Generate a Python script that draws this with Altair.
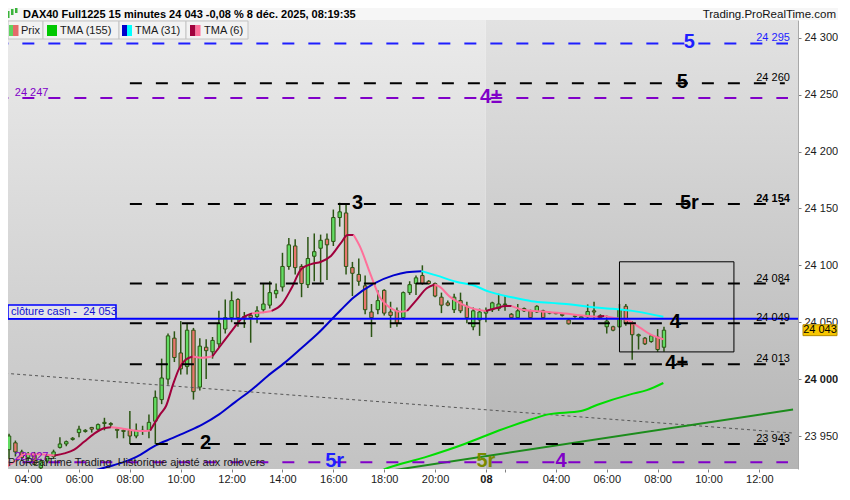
import altair as alt
import pandas as pd

NB = "\u00a0"

# ---------------- candles : bar index 0 = Fri 03:15, 75 = Mon 01:15 (15 min) ----------------
bar_open = [23938, 23944, 23936, 23931, 23934, 23922, 23928, 23932, 23940, 23943,
            23947, 23953, 23954, 23957.5, 23956, 23961, 23961, 23956, 23955, 23955,
            23950, 23954, 23955, 23963, 23982, 24000, 24036, 24023, 24011, 24043,
            23993, 24028, 24024, 24031, 24044, 24054, 24070, 24055, 24056, 24055,
            24061, 24065, 24075, 24081, 24099, 24117, 24099, 24083, 24108, 24115,
            24123, 24121, 24142, 24146, 24098, 24092, 24082, 24059, 24061, 24078,
            24059, 24060, 24054, 24076, 24084, 24091, 24086, 24084, 24072, 24067,
            24061, 24069, 24064, 24046, 24052, 24058, 24061, 24062, 24065.5, 24057,
            24054, 24062, 24060, 24059, 24060, 24058, 24058, 24057, 24052, 24055,
            24053.7, 24054.8, 24060, 24054.3, 24046, 24046, 24046, 24064, 24049, 24038,
            24036, 24033, 24037, 24028]
bar_high = [23952, 23946, 23938, 23936, 23936, 23930, 23934, 23938, 23949, 23946,
            23949, 23959, 23956, 23958, 23961, 23966, 23962, 23957, 23956, 23972,
            23961, 23959, 23969, 23990, 24018, 24040, 24042, 24051, 24049, 24045,
            24036, 24035, 24037, 24060, 24070, 24077, 24071, 24059, 24058, 24064,
            24084, 24086, 24084, 24111, 24124, 24123, 24101, 24125, 24128, 24127,
            24128, 24149, 24155, 24154, 24103, 24106, 24091, 24066, 24078, 24079,
            24068, 24063, 24077, 24086, 24091, 24100, 24087, 24085, 24076, 24069,
            24075, 24076, 24068, 24063, 24062, 24063, 24068, 24075, 24074, 24058,
            24066, 24063, 24061, 24065, 24061, 24059, 24059, 24058, 24053, 24056,
            24055.5, 24065.6, 24068, 24057, 24056, 24047, 24066, 24066, 24051, 24040,
            24037, 24039, 24044, 24046]
bar_low = [23930, 23932, 23928, 23928, 23924, 23921, 23926, 23930, 23939, 23941,
           23946, 23949, 23953, 23953, 23955, 23955, 23957, 23948, 23948, 23943,
           23948, 23951, 23948, 23943, 23978, 23995, 24015, 24004, 24004, 23982,
           23990, 24000, 24018, 24028, 24040, 24050, 24046, 24045, 24032, 24049,
           24058, 24062, 24071, 24077, 24096, 24092, 24072, 24080, 24086, 24085,
           24087, 24117, 24134, 24092, 24073, 24082, 24057, 24037, 24057, 24056,
           24045, 24046, 24052, 24074, 24074, 24083, 24083, 24072, 24058, 24064,
           24058, 24058, 24049, 24043, 24038, 24050, 24059, 24060, 24060, 24053,
           24053, 24059, 24053, 24058, 24053, 24057, 24057, 24055, 24048, 24054,
           24053, 24054, 24052, 24053, 24040, 24042, 24045, 24047, 24017, 24026,
           24030, 24032, 24024, 24024]
bar_close = [23950, 23936, 23931, 23934, 23925, 23928, 23932, 23936, 23943, 23945,
             23948, 23956, 23955, 23956, 23960, 23962, 23960, 23955, 23954, 23950,
             23955, 23955, 23962, 23984, 24001, 24038, 24019, 24009, 24043, 23989,
             24029, 24025, 24034, 24049, 24054, 24069, 24054, 24053, 24054, 24060,
             24066, 24076, 24078, 24099, 24118, 24098, 24084, 24106, 24112, 24122,
             24118, 24142, 24147, 24099, 24093, 24086, 24061, 24054, 24069, 24058,
             24056, 24049, 24076, 24083, 24089, 24084, 24084, 24073, 24065, 24065,
             24072, 24060, 24054, 24060, 24059, 24060, 24067, 24066, 24066, 24054,
             24060, 24060, 24054, 24064, 24054, 24058.5, 24057.5, 24056, 24048.6, 24055.5,
             24054.8, 24059.4, 24059, 24055.7, 24051, 24043, 24061, 24049, 24039, 24039,
             24031, 24038, 24026, 24043]

# ---------------- moving averages ----------------
tma6_bar = [-0.62, 0.93, 2.48, 4.5, 7.14, 8.7, 10.25, 11.8, 13.35, 14.9, 16.0, 17.55,
            19.57, 21.1, 22.2, 23.76, 24.69, 25.78, 26.71, 27.64, 28.88, 30.43, 31.99,
            33.54, 35.09, 36.65, 38.2, 39.75, 41.3, 42.86, 44.41, 45.96, 47.52, 49.07,
            50.62, 52.17, 53.26, 54.19, 55.28, 56.83, 58.39, 59.94, 61.49, 62.58, 64.13,
            65.68, 66.93, 67.7, 69.25, 71.27, 72.83, 75.0, 76.55, 78.11, 79.04, 81.21,
            84.32, 87.42, 90.53, 92.55, 93.63, 95.19, 97.2, 99.22, 100.78, 102.95]
tma6_val = [23922.1, 23927.8, 23934.0, 23934.0, 23932.9, 23934.7, 23938.0, 23944.9,
            23951.9, 23956.8, 23957.7, 23956.8, 23954.8, 23954.3, 23954.8, 23969.0,
            23976.4, 23995.1, 24008.8, 24016.4, 24019.9, 24018.8, 24020.1, 24031.5,
            24042.9, 24053.5, 24057.8, 24058.5, 24059.9, 24065.6, 24079.8, 24096.8,
            24101.1, 24103.1, 24108.2, 24119.5, 24126.6, 24126.6, 24115.3, 24092.3,
            24071.2, 24062.7, 24059.3, 24059.9, 24069.9, 24079.8, 24083.2, 24081.2,
            24072.7, 24065.6, 24062.2, 24059.9, 24062.2, 24064.2, 24064.2, 24060.5,
            24059.3, 24057.6, 24055.7, 24054.8, 24055.4, 24053.7, 24052.0, 24045.2,
            24039.5, 24034.9]
tma6_turns = [0, 4, 10, 14, 20, 22, 26, 28, 37, 43, 46, 51, 54, 59, 60, 65]
tma6_colors = ["#ff6f9a", "#a0003c"]

tma31_bar = [12.0, 15.37, 18.01, 20.03, 23.14, 25.78, 27.84, 30.43, 33.03, 35.56, 38.2,
             40.68, 43.37, 45.96, 48.56, 52.17, 54.19, 57.3, 60.45, 62.53, 64.86,
             67.19, 70.3, 72.87, 75.47, 79.08, 82.19, 85.3, 88.4, 91.51, 94.61, 98.76, 102.9]
tma31_val = [23917.5, 23922.7, 23927.0, 23931.7, 23942.0, 23948.3, 23953.4, 23960.2,
             23969.0, 23979.8, 23990.9, 24002.8, 24014.5, 24027.1, 24040.0, 24060.8,
             24071.8, 24083.8, 24091.2, 24094.0, 24094.9, 24091.2, 24085.5, 24082.7,
             24076.9, 24071.9, 24068.5, 24067.0, 24065.6, 24063.3, 24061.9, 24059.3, 24054.8]
tma31_turns = [0, 20, 32]
tma31_colors = ["#0000cc", "#00ffff"]

tma155_bar = [57.6, 59.16, 65.37, 71.85, 77.02, 82.19, 84.78, 89.95, 92.55, 97.72, 100.31, 102.9]
tma155_val = [23917.0, 23921.0, 23931.2, 23943.4, 23954.8, 23964.7, 23969.0, 23971.9,
              23977.5, 23986.6, 23990.3, 23996.6]

trend_bar = [58.4, 123.3]
trend_val = [23918.2, 23973.3]
dotted_bar = [-0.62, 123.3]
dotted_val = [24005.1, 23952.6]

# ---------------- horizontal levels ----------------
lvl_price = [24295, 24260, 24247, 24154, 24084, 24049, 24013, 23943, 23927]
lvl_color = ["#1e1eff", "#000000", "#8000c8", "#000000", "#000000", "#000000",
             "#000000", "#000000", "#8000c8"]
lvl_start = [-2, 19, -2, 19, 19, 19, 19, 19, -2]
lvl_end = [122.5, 122, 122.5, 122, 122, 122, 122, 122, 122.5]

rlab_text = ["24 295", "24 260", "24 084", "24 049", "24 013", "23 943"]
rlab_price = [24295, 24260, 24084, 24049, 24013, 23943]
rlab_color = ["#1e1eff", "#000000", "#000000", "#000000", "#000000", "#000000"]
llab_text = ["24 247", "23 927"]
llab_price = [24247, 23927]

big_text = ["5", "5", "4±", "3", "5r", "4", "4+", "2", "5r", "5r", "4"]
big_bar = [107.0, 105.9, 75.8, 54.8, 107.0, 104.8, 105.0, 30.9, 51.2, 75.0, 86.8]
big_price = [24295, 24260, 24247, 24154, 24154, 24049, 24013, 23943, 23927, 23927, 23927]
big_color = ["#1e1eff", "#000000", "#8000c8", "#000000", "#000000", "#000000", "#000000",
             "#000000", "#1e1eff", "#7a8a00", "#8000c8"]

cash_close = 24053
last_price = 24043
box_bars = [96.0, 114.0]
box_prices = [24023.9, 24103.1]

x_ticks = [3, 11, 19, 27, 35, 43, 51, 59, 67, 75, 78, 86, 94, 102, 110, 118]
y_ticks = [23950, 24000, 24050, 24100, 24150, 24200, 24250, 24300]

# ---------------- tables ----------------
candles = pd.DataFrame({"n": list(range(len(bar_open))), "o": bar_open, "h": bar_high,
                        "l": bar_low, "c": bar_close})


def segments(xs, ys, turns, colors):
    rows = []
    for k in range(len(turns) - 1):
        for i in range(turns[k], turns[k + 1] + 1):
            rows.append({"n": xs[i], "v": ys[i], "seg": k, "col": colors[k % 2]})
    return pd.DataFrame(rows)


tma6 = segments(tma6_bar, tma6_val, tma6_turns, tma6_colors)
tma31 = segments(tma31_bar, tma31_val, tma31_turns, tma31_colors)
tma155 = pd.DataFrame({"n": tma155_bar, "v": tma155_val})
trend = pd.DataFrame({"n": trend_bar, "v": trend_val})
dotted = pd.DataFrame({"n": dotted_bar, "v": dotted_val})
levels = pd.DataFrame({"n": lvl_start, "n1": lvl_end, "v": lvl_price, "col": lvl_color})
rlab = pd.DataFrame({"n": [122.8] * len(rlab_text), "v": rlab_price, "t": rlab_text, "col": rlab_color})
llab = pd.DataFrame({"n": [0.9] * len(llab_text), "v": llab_price, "t": llab_text})
bold_lab = pd.DataFrame({"n": [122.8], "v": [24154], "t": ["24 154"]})
big = pd.DataFrame({"n": big_bar, "v": big_price, "t": big_text, "col": big_color})
bg = pd.DataFrame({"n": [-2, 74.95], "n1": [74.95, 130]})
one = pd.DataFrame({"a": [0]})

W, H = 790, 449

xscale = alt.Scale(domain=[0.62, 123.29], nice=False, zero=False)
yscale = alt.Scale(domain=[23921, 24315.6], nice=False, zero=False)
xaxis = alt.Axis(values=x_ticks, title=None, grid=False, domain=False, tickSize=3,
                 tickColor="#808080", labelFontSize=11, labelColor="#1a1a1a", labelPadding=1,
                 labelOverlap=False, labelFlush=False, labelFont="Liberation Sans",
                 labelExpr="datum.value == 75 ? '08' : (datum.value == 78 ? '' : format(datum.value < 75 ? (datum.value + 13) / 4 : (datum.value - 70) / 4, '02d') + ':00')",
                 labelFontWeight={"condition": {"test": "datum.value == 75", "value": "bold"}, "value": "normal"})
yaxis = alt.Axis(orient="right", values=y_ticks, title=None, grid=False, domainColor="#a8a8a8",
                 tickColor="#808080", tickSize=3, labelPadding=3, labelFontSize=11,
                 labelColor="#1a1a1a", labelFont="Liberation Sans",
                 labelExpr="replace(format(datum.value, ','), ',', ' ')",
                 labelFontWeight={"condition": {"test": "datum.value == 24000", "value": "bold"}, "value": "normal"})


def X(f="n"):
    return alt.X(f"{f}:Q", scale=xscale, axis=xaxis)


def Y(f="v"):
    return alt.Y(f"{f}:Q", scale=yscale, axis=yaxis)


def grad(top, bottom):
    return alt.LinearGradient(gradient="linear", x1=0, x2=0, y1=0, y2=1,
                              stops=[alt.GradientStop(offset=0, color=top),
                                     alt.GradientStop(offset=1, color=bottom)])


layers = []
# backgrounds (previous session lighter)
layers.append(alt.Chart(bg.iloc[[0]]).mark_rect(clip=True, color=grad("#ebebeb", "#c3c3c3"))
              .encode(x=X(), x2="n1:Q", y=alt.value(0), y2=alt.value(H)))
layers.append(alt.Chart(bg.iloc[[1]]).mark_rect(clip=True, color=grad("#e2e2e2", "#b4b4b4"))
              .encode(x=X(), x2="n1:Q", y=alt.value(0), y2=alt.value(H)))

# candles
layers.append(alt.Chart(candles).mark_rule(clip=True, color="#2b5513", strokeWidth=1.5)
              .encode(x=X(), y=Y("l"), y2="h:Q"))
layers.append(alt.Chart(candles).mark_bar(clip=True, size=3.4, stroke="#2b5513", strokeWidth=1)
              .encode(x=X(), y=Y("o"), y2="c:Q",
                      fill=alt.condition("datum.c >= datum.o", alt.value("#62dc62"), alt.value("#e8766e"))))

# auxiliary lines
layers.append(alt.Chart(dotted).mark_line(clip=True, color="#555555", strokeWidth=1, strokeDash=[3, 3])
              .encode(x=X(), y=Y()))
layers.append(alt.Chart(trend).mark_line(clip=True, color="#1c8c1c", strokeWidth=2)
              .encode(x=X(), y=Y()))
layers.append(alt.Chart(tma155).mark_line(clip=True, color="#00dd00", strokeWidth=2, interpolate="monotone")
              .encode(x=X(), y=Y()))
layers.append(alt.Chart(tma31).mark_line(clip=True, strokeWidth=2, interpolate="monotone")
              .encode(x=X(), y=Y(), detail="seg:N", color=alt.Color("col:N", scale=None)))
layers.append(alt.Chart(tma6).mark_line(clip=True, strokeWidth=2, interpolate="monotone")
              .encode(x=X(), y=Y(), detail="seg:N", color=alt.Color("col:N", scale=None)))

# levels
layers.append(alt.Chart(levels).mark_rule(clip=True, strokeWidth=2, strokeDash=[12, 14])
              .encode(x=X(), x2="n1:Q", y=Y(), color=alt.Color("col:N", scale=None)))
layers.append(alt.Chart(pd.DataFrame({"n": [-2], "n1": [130], "v": [cash_close]}))
              .mark_rule(clip=True, strokeWidth=2, color="#0000ff")
              .encode(x=X(), x2="n1:Q", y=Y()))
layers.append(alt.Chart(pd.DataFrame({"n": [box_bars[0]], "n1": [box_bars[1]],
                                      "v": [box_prices[0]], "v1": [box_prices[1]]}))
              .mark_rect(clip=True, fillOpacity=0, stroke="#000000", strokeWidth=1)
              .encode(x=X(), x2="n1:Q", y=Y(), y2="v1:Q"))

# level texts
layers.append(alt.Chart(rlab).mark_text(align="right", baseline="alphabetic", dy=-2, fontSize=11)
              .encode(x=X(), y=Y(), text="t:N", color=alt.Color("col:N", scale=None)))
layers.append(alt.Chart(bold_lab).mark_text(align="right", baseline="alphabetic", dy=-2, fontSize=11,
                                            fontWeight="bold", color="#000000")
              .encode(x=X(), y=Y(), text="t:N"))
layers.append(alt.Chart(llab).mark_text(align="left", baseline="alphabetic", dy=-2, fontSize=11,
                                        color="#8000c8")
              .encode(x=X(), y=Y(), text="t:N"))
layers.append(alt.Chart(big).mark_text(clip=True, align="center", baseline="middle", dy=-1,
                                       fontSize=20, fontWeight="bold")
              .encode(x=X(), y=Y(), text="t:N", color=alt.Color("col:N", scale=None)))

# "clôture cash" tag
layers.append(alt.Chart(pd.DataFrame({"v": [cash_close], "v1": [24065.2]}))
              .mark_rect(fill="#e4e4e8", stroke="#0000ff", strokeWidth=1.5)
              .encode(x=alt.value(0), x2=alt.value(108), y=Y(), y2="v1:Q"))
layers.append(alt.Chart(pd.DataFrame({"v": [24059]}))
              .mark_text(text="clôture cash -" + NB + NB + "24 053", align="left", baseline="middle",
                         fontSize=11, color="#1010d0")
              .encode(x=alt.value(3), y=Y()))

# bottom caption
layers.append(alt.Chart(pd.DataFrame({"v": [23924]}))
              .mark_text(text="ProRealTime Trading" + NB + NB + "Historique ajusté aux rollovers",
                         align="left", baseline="alphabetic", fontSize=11, color="#1a1a1a")
              .encode(x=alt.value(0), y=Y()))

# last price tag
layers.append(alt.Chart(pd.DataFrame({"v": [last_price - 4.8], "v1": [last_price + 4.8]}))
              .mark_rect(fill="#f7c600", stroke="#b58c00", strokeWidth=1)
              .encode(x=alt.value(795), x2=alt.value(829), y=Y(), y2="v1:Q"))
layers.append(alt.Chart(pd.DataFrame({"v": [last_price]}))
              .mark_text(text="24 043", align="center", baseline="middle", fontSize=11, color="#000000")
              .encode(x=alt.value(812), y=Y()))


# ---------------- header & legend strip (decoration) ----------------
def box(x0, x1, y0, y1, **kw):
    return alt.Chart(one).mark_rect(**kw).encode(x=alt.value(x0), x2=alt.value(x1),
                                                 y=alt.value(y0), y2=alt.value(y1))


def label(x, y, txt, **kw):
    return alt.Chart(one).mark_text(text=txt, **kw).encode(x=alt.value(x), y=alt.value(y))


layers.append(box(0, 830, -12, 0, fill="#f6f6f6"))
layers.append(label(15, -2.5, "DAX40 Full1225 15 minutes 24 043 -0,08 % 8 déc. 2025, 08:19:35",
                    align="left", baseline="alphabetic", fontSize=11, fontWeight="bold", color="#000000"))
layers.append(label(828, -2.5, "Trading.ProRealTime.com", align="right", baseline="alphabetic",
                    fontSize=11.5, color="#111111"))
# tiny candle icon
layers.append(box(-1, 1.5, -9, -2, fill="#3cb43c"))
layers.append(box(3, 5.5, -11, -5, fill="#3cb43c"))
layers.append(box(7, 9.5, -12, -7, fill="#3cb43c"))

legend_boxes = [(0, 35), (35, 111), (111, 178), (178, 240)]
for x0, x1 in legend_boxes:
    layers.append(box(x0, x1, 1, 19, fill="#f2f2f2", stroke="#c4c4c4", strokeWidth=1))
swatches = [(1, 5, "#5fd35f"), (5, 10.5, "#e46a6a"), (39, 49, "#00c800"),
            (114, 119, "#0000cc"), (119, 124, "#00ffff"), (182, 187.5, "#a0003c"),
            (187.5, 192.5, "#ff6f9a")]
for x0, x1, c in swatches:
    layers.append(box(x0, x1, 5, 16, fill=c))
for x, t in [(13, "Prix"), (52, "TMA (155)"), (127, "TMA (31)"), (196, "TMA (6)")]:
    layers.append(label(x, 10.5, t, align="left", baseline="middle", fontSize=11, color="#1a1a1a"))

chart = (alt.layer(*layers)
         .properties(width=W, height=H,
                     padding={"left": 0, "top": 12, "right": 40, "bottom": 19},
                     autosize=alt.AutoSizeParams(type="none"),
                     background="white")
         .configure(font="Liberation Sans")
         .configure_view(strokeWidth=0))

chart.save("out.html", embed_options={"renderer": "svg", "actions": False})
